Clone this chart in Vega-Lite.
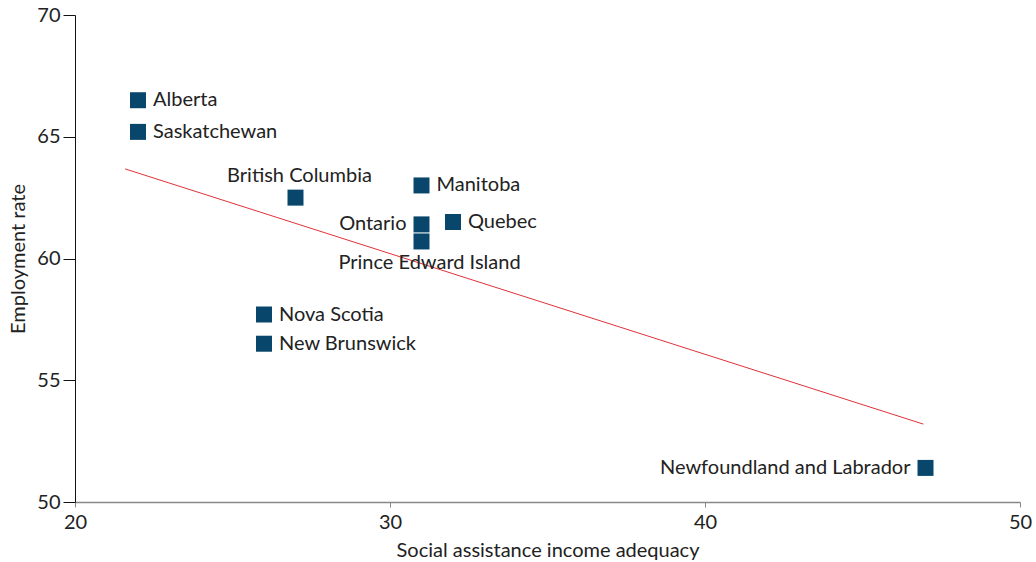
{
  "$schema": "https://vega.github.io/schema/vega-lite/v6.json",
  "width": 945,
  "height": 487,
  "autosize": {"type": "none"},
  "padding": {"left": 75, "top": 15, "right": 16, "bottom": 60},
  "background": "white",
  "config": {
    "view": {"stroke": null},
    "font": "Lato",
    "text": {"font": "Lato", "fontSize": 20, "color": "#222222"}
  },
  "datasets": {
    "provinces": [
      {"province": "Alberta", "adequacy": 22, "employment": 66.5},
      {"province": "Saskatchewan", "adequacy": 22, "employment": 65.2},
      {"province": "British Columbia", "adequacy": 27, "employment": 62.5},
      {"province": "Manitoba", "adequacy": 31, "employment": 63.0},
      {"province": "Ontario", "adequacy": 31, "employment": 61.4},
      {"province": "Quebec", "adequacy": 32, "employment": 61.5},
      {"province": "Prince Edward Island", "adequacy": 31, "employment": 60.7},
      {"province": "Nova Scotia", "adequacy": 26, "employment": 57.7},
      {"province": "New Brunswick", "adequacy": 26, "employment": 56.5},
      {"province": "Newfoundland and Labrador", "adequacy": 47, "employment": 51.4}
    ],
    "trend": [
      {"adequacy": 21.59, "employment": 63.68},
      {"adequacy": 46.93, "employment": 53.2}
    ]
  },
  "layer": [
    {
      "data": {"name": "trend"},
      "mark": {"type": "line", "color": "#e0323a", "strokeWidth": 1},
      "encoding": {
        "x": {
          "field": "adequacy", "type": "quantitative",
          "scale": {"domain": [20, 50], "nice": false, "zero": false},
          "axis": {
            "title": "Social assistance income adequacy",
            "values": [20, 30, 40, 50],
            "grid": false,
            "domainColor": "#888888",
            "domainWidth": 1.5,
            "tickColor": "#888888",
            "tickSize": 5,
            "labelPadding": 5,
            "labelFont": "Lato",
            "labelFontSize": 20,
            "labelColor": "#222222",
            "labelFlush": false,
            "titleFont": "Lato",
            "titleFontSize": 20,
            "titleFontWeight": "normal",
            "titleColor": "#222222",
            "titleBaseline": "middle",
            "titleY": 48
          }
        },
        "y": {
          "field": "employment", "type": "quantitative",
          "scale": {"domain": [50, 70], "nice": false, "zero": false},
          "axis": {
            "title": "Employment rate",
            "values": [50, 55, 60, 65, 70],
            "grid": false,
            "domainColor": "#111111",
            "domainWidth": 1,
            "tickColor": "#111111",
            "tickSize": 12,
            "labelPadding": 3,
            "labelFont": "Lato",
            "labelFontSize": 20,
            "labelColor": "#222222",
            "titleFont": "Lato",
            "titleFontSize": 20,
            "titleFontWeight": "normal",
            "titleColor": "#222222",
            "titleX": -57,
            "titleY": 243.5,
            "titleBaseline": "middle",
            "titleAngle": -90
          }
        }
      }
    },
    {
      "data": {"name": "provinces"},
      "mark": {"type": "point", "shape": "square", "filled": true, "size": 256, "color": "#08466b", "opacity": 1},
      "encoding": {
        "x": {"field": "adequacy", "type": "quantitative"},
        "y": {"field": "employment", "type": "quantitative"}
      }
    },
    {
      "data": {"name": "provinces"},
      "transform": [{"filter": {"field": "province", "oneOf": ["Alberta", "Saskatchewan", "Manitoba", "Quebec", "Nova Scotia", "New Brunswick"]}}],
      "mark": {"type": "text", "align": "left", "baseline": "middle", "dx": 15, "fontSize": 20, "color": "#222222"},
      "encoding": {
        "x": {"field": "adequacy", "type": "quantitative"},
        "y": {"field": "employment", "type": "quantitative"},
        "text": {"field": "province"}
      }
    },
    {
      "data": {"name": "provinces"},
      "transform": [{"filter": {"field": "province", "oneOf": ["Ontario", "Newfoundland and Labrador"]}}],
      "mark": {"type": "text", "align": "right", "baseline": "middle", "dx": -15, "fontSize": 20, "color": "#222222"},
      "encoding": {
        "x": {"field": "adequacy", "type": "quantitative"},
        "y": {"field": "employment", "type": "quantitative"},
        "text": {"field": "province"}
      }
    },
    {
      "data": {"name": "provinces"},
      "transform": [{"filter": {"field": "province", "equal": "British Columbia"}}],
      "mark": {"type": "text", "align": "center", "baseline": "middle", "dx": 4, "dy": -22, "fontSize": 20, "color": "#222222"},
      "encoding": {
        "x": {"field": "adequacy", "type": "quantitative"},
        "y": {"field": "employment", "type": "quantitative"},
        "text": {"field": "province"}
      }
    },
    {
      "data": {"name": "provinces"},
      "transform": [{"filter": {"field": "province", "equal": "Prince Edward Island"}}],
      "mark": {"type": "text", "align": "center", "baseline": "middle", "dx": 8, "dy": 22, "fontSize": 20, "color": "#222222"},
      "encoding": {
        "x": {"field": "adequacy", "type": "quantitative"},
        "y": {"field": "employment", "type": "quantitative"},
        "text": {"field": "province"}
      }
    }
  ]
}
